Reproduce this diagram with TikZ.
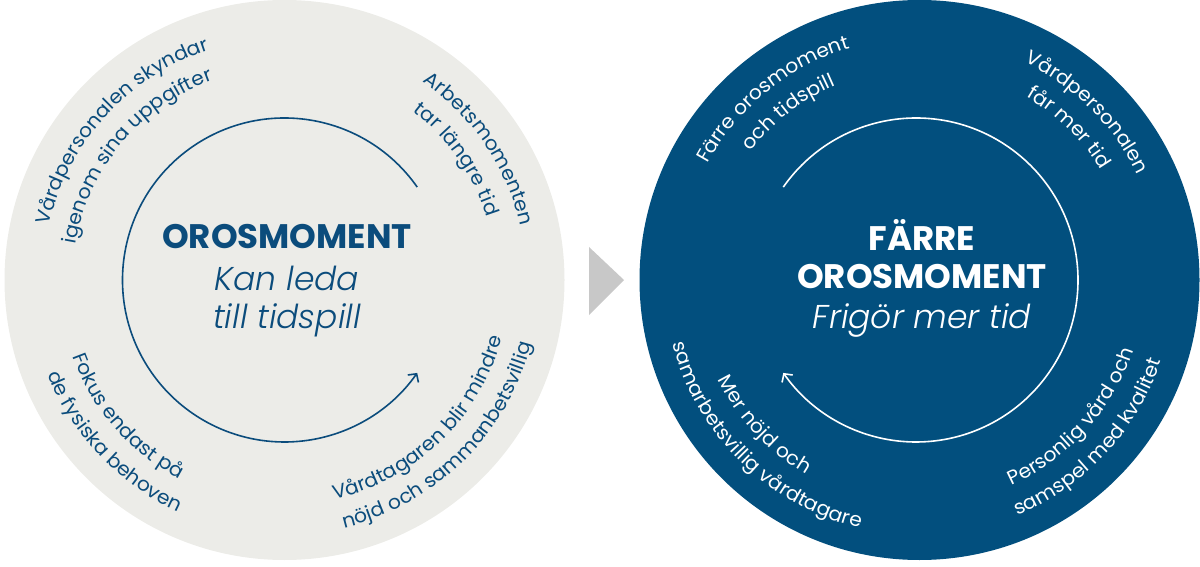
\documentclass[tikz,border=0pt]{standalone}
\usepackage{fontspec}
\usetikzlibrary{decorations.text,arrows.meta}
\newfontfamily\ringfont{Poppins}[FakeStretch=1.04]
\IfFontExistsTF{Poppins Bold}{\newfontfamily\titlefont{Poppins Bold}}{\newfontfamily\titlefont{Poppins}[FakeBold=2]}
\IfFontExistsTF{Poppins Light Italic}{\newfontfamily\subfont{Poppins Light Italic}}{\newfontfamily\subfont{Poppins}[FakeSlant=0.2]}
\definecolor{ringblue}{HTML}{0B4C7C}
\definecolor{darkfill}{HTML}{024F7E}
\definecolor{lightfill}{HTML}{ECECE8}
\definecolor{arrowgray}{HTML}{C8C8C8}
\begin{document}
\begin{tikzpicture}[x=1pt,y=1pt,
  ringtxt/.style n args={2}{decorate, decoration={text along path, text align=center,
     text color=#2, text={|\ringfont\fontsize{19.5}{19.5}\selectfont|#1}}},
  cycarrow/.style={line width=1.6pt, -{Straight Barb[length=6pt,width=13pt,line width=1.6pt]}},
  titlestyle/.style={font=\titlefont\fontsize{34}{34}\selectfont, anchor=base, inner sep=0pt},
  substyle/.style={font=\subfont\fontsize{33}{33}\selectfont, anchor=base, inner sep=0pt}]
\useasboundingbox (0,0) rectangle (1200,566);
\coordinate (L) at (284.5,286);
\coordinate (R) at (919.5,286);
\coordinate (Ri) at (916,286);
\fill[lightfill] (L) circle[radius=280];
\fill[darkfill] (R) circle[radius=280];
\fill[arrowgray] (589,319) -- (624,286) -- (589,251) -- cycle;
% inner cycle arrows
\draw[ringblue, cycarrow] (L) ++(35:162) arc[start angle=35, end angle=325, radius=162];
\draw[white, cycarrow] (Ri) ++(145:162) arc[start angle=145, end angle=-145, radius=162];
% centre texts
\node[titlestyle, text=ringblue] (t1) at (287,317) {OROSMOMENT};
\node[substyle, text=ringblue] (s1) at (287,276) {Kan leda};
\node[substyle, text=ringblue] (s2) at (287,238) {till tidspill};
\node[titlestyle, text=white] (t2) at (922,316) {FÄRRE};
\node[titlestyle, text=white] (t3) at (922,278) {OROSMOMENT};
\node[substyle, text=white] (s3) at (922,238) {Frigör mer tid};
% left ring texts (top: clockwise, bottom: counter-clockwise)
\path[ringtxt={Vårdpersonalen skyndar}{ringblue}] (L) ++(197.5:242) arc[start angle=197.5, end angle=77.5, radius=242];
\path[ringtxt={igenom sina uppgifter}{ringblue}] (L) ++(200:212) arc[start angle=200, end angle=80, radius=212];
\path[ringtxt={Arbetsmomenten}{ringblue}] (L) ++(94:242) arc[start angle=94, end angle=-26, radius=242];
\path[ringtxt={tar längre tid}{ringblue}] (L) ++(95:212) arc[start angle=95, end angle=-25, radius=212];
\path[ringtxt={Fokus endast på}{ringblue}] (L) ++(161:225) arc[start angle=161, end angle=281, radius=225];
\path[ringtxt={de fysiska behoven}{ringblue}] (L) ++(163.5:255) arc[start angle=163.5, end angle=283.5, radius=255];
\path[ringtxt={Vårdtagaren blir mindre}{ringblue}] (L) ++(-106:225) arc[start angle=-106, end angle=14, radius=225];
\path[ringtxt={nöjd och sammanbetsvillig}{ringblue}] (L) ++(-105.5:255) arc[start angle=-105.5, end angle=14.5, radius=255];
% right ring texts
\path[ringtxt={Färre orosmoment}{white}] (R) ++(189:242) arc[start angle=189, end angle=69, radius=242];
\path[ringtxt={och tidspill}{white}] (R) ++(188:212) arc[start angle=188, end angle=68, radius=212];
\path[ringtxt={Vårdpersonalen}{white}] (R) ++(105:242) arc[start angle=105, end angle=-15, radius=242];
\path[ringtxt={får mer tid}{white}] (R) ++(105.5:212) arc[start angle=105.5, end angle=-14.5, radius=212];
\path[ringtxt={Mer nöjd och}{white}] (R) ++(163:225) arc[start angle=163, end angle=283, radius=225];
\path[ringtxt={samarbetsvillig vårdtagare}{white}] (R) ++(165.5:255) arc[start angle=165.5, end angle=285.5, radius=255];
\path[ringtxt={Personlig vård och}{white}] (R) ++(-102:225) arc[start angle=-102, end angle=18, radius=225];
\path[ringtxt={samspel med kvalitet}{white}] (R) ++(-103:255) arc[start angle=-103, end angle=17, radius=255];
\end{tikzpicture}
\end{document}
